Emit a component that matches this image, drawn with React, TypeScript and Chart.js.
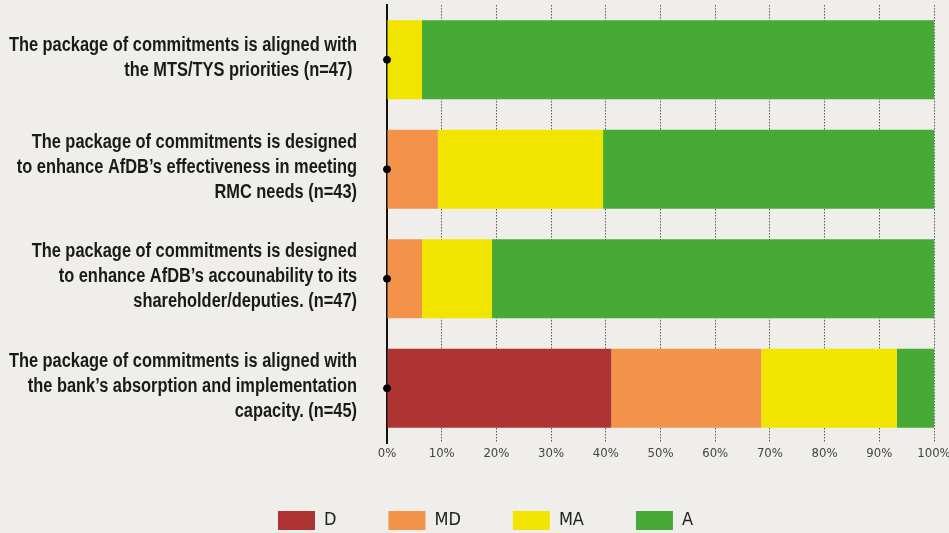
import React, { useEffect, useRef } from 'react';
import { Chart, registerables } from 'chart.js';

Chart.register(...registerables);

// ---------- data ----------
const categories: string[][] = [
  ['The package of commitments is aligned with', 'the MTS/TYS priorities (n=47) '],
  ['The package of commitments is designed', 'to enhance AfDB\u2019s effectiveness in meeting', 'RMC needs (n=43)'],
  ['The package of commitments is designed', 'to enhance AfDB\u2019s accounability to its', 'shareholder/deputies. (n=47)'],
  ['The package of commitments is aligned with', 'the bank\u2019s absorption and implementation', 'capacity. (n=45)'],
];
const seriesNames = ['D', 'MD', 'MA', 'A'];
const dValues = [0, 0, 0, 41.0];
const mdValues = [0, 9.3, 6.4, 27.4];
const maValues = [6.4, 30.2, 12.8, 24.8];
const aValues = [93.6, 60.5, 80.8, 6.8];
const markerValues = [0, 0, 0, 0];
const xTicks = [0, 10, 20, 30, 40, 50, 60, 70, 80, 90, 100];

// ---------- styles ----------
const seriesColors = ['#ae3434', '#f39249', '#f1e500', '#47aa35'];
const NARROW = "'DejaVu Sans Condensed', 'Liberation Sans Narrow', sans-serif";
const LABEL_FONT = "'Liberation Sans', Arial, sans-serif";
const LABEL_SQUEEZE = 0.82;
const Y_PAD = 30;
const BG = '#efeeea';

export default function App() {
  const ref = useRef<HTMLCanvasElement>(null);

  useEffect(() => {
    if (!ref.current) return;
    const seriesValues = [dValues, mdValues, maValues, aValues];

    const bgPlugin = {
      id: 'bgFill',
      beforeDraw(chart: any) {
        const { ctx, width, height } = chart;
        ctx.save();
        ctx.fillStyle = BG;
        ctx.fillRect(0, 0, width, height);
        ctx.restore();
      },
    };
    // condensed look for the category labels: squeeze them horizontally about their right edge
    const yLabelPlugin = {
      id: 'yLabelSqueeze',
      afterLayout(chart: any) {
        const y = chart.scales.y;
        if (!y) return;
        y.left = -2000;
        if (!y.__squeezed) {
          const orig = y.drawLabels.bind(y);
          y.drawLabels = (area: any) => {
            const ctx = chart.ctx;
            const ax = y.right - Y_PAD;
            ctx.save();
            ctx.translate(ax, -2);
            ctx.scale(LABEL_SQUEEZE, 1);
            ctx.translate(-ax, 0);
            orig(area);
            ctx.restore();
          };
          y.__squeezed = true;
        }
      },
    };

    const chart = new Chart(ref.current, {
      type: 'bar',
      data: {
        labels: categories,
        datasets: [
          ...seriesNames.map((name, i) => ({
            type: 'bar' as const,
            label: name,
            data: seriesValues[i],
            backgroundColor: seriesColors[i],
            borderWidth: 0,
            categoryPercentage: 1,
            barPercentage: 0.72,
            order: 1,
          })),
          {
            type: 'line' as const,
            label: 'marker',
            data: markerValues,
            showLine: false,
            pointRadius: 3.5,
            pointBorderWidth: 1,
            pointBackgroundColor: '#000',
            pointBorderColor: '#000',
            clip: false as any,
            order: 0,
          },
        ],
      } as any,
      options: {
        indexAxis: 'y',
        animation: false,
        responsive: true,
        maintainAspectRatio: false,
        events: [],
        layout: { padding: { left: 37, right: 15, top: 5, bottom: 0 } },
        scales: {
          x: {
            stacked: true,
            min: 0,
            max: 100,
            grid: {
              drawTicks: false,
              lineWidth: 1,
              color: (c: any) => (c.index === 0 ? 'rgba(0,0,0,0)' : '#5a5a5a'),
            },
            border: { display: false, dash: [1.5, 1.5] },
            afterBuildTicks: (s: any) => {
              s.ticks = xTicks.map((v) => ({ value: v }));
            },
            ticks: {
              padding: 3,
              color: '#444',
              maxRotation: 0,
              autoSkip: false,
              font: { family: NARROW, size: 13 },
              callback: (v: any) => v + '%',
            },
            afterFit: (s: any) => {
              s.height = 16;
              s.paddingLeft = 0;
              s.paddingRight = 0;
            },
          },
          y: {
            stacked: true,
            grid: { display: false, drawTicks: false },
            border: { display: true, color: '#111', width: 2 },
            ticks: {
              padding: Y_PAD,
              autoSkip: false,
              color: '#1a1a1a',
              font: { family: LABEL_FONT, size: 20, weight: 'bold', lineHeight: 1.25 },
            },
            afterFit: (s: any) => {
              s.width = 350;
              s.paddingTop = 0;
              s.paddingBottom = 0;
            },
          },
        },
        plugins: {
          tooltip: { enabled: false },
          legend: {
            position: 'bottom',
            maxHeight: 74,
            labels: {
              boxWidth: 37,
              boxHeight: 19,
              padding: 52,
              color: '#222',
              font: { family: NARROW, size: 18 },
              filter: (item: any) => item.datasetIndex < seriesNames.length,
            },
          },
        },
      } as any,
      plugins: [bgPlugin, yLabelPlugin],
    });

    return () => chart.destroy();
  }, []);

  return (
    <div style={{ position: 'fixed', left: 0, top: 0, width: 949, height: 533, background: BG }}>
      <canvas ref={ref} />
    </div>
  );
}
